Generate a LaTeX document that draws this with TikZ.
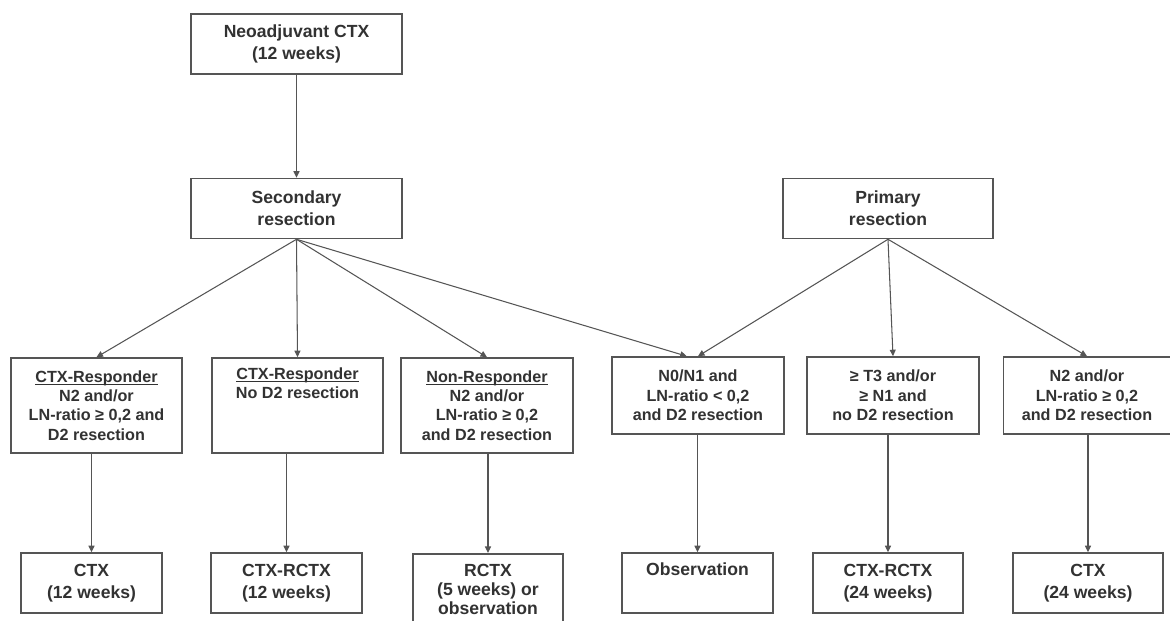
\documentclass[tikz,border=0pt]{standalone}
\usepackage{fontspec}
\setmainfont{Liberation Sans}
\usetikzlibrary{arrows.meta}
\definecolor{boxgray}{RGB}{85,85,85}
\definecolor{textgray}{RGB}{50,50,50}
\newcommand{\ulword}[1]{\setbox0\hbox{#1}\rlap{\rule[-0.3ex]{\wd0}{0.55pt}}\box0}

\begin{document}
\begin{tikzpicture}[>={Triangle[length=1.3mm,width=1.2mm]},
        box/.style={draw=boxgray, line width=0.9pt, fill=white, inner sep=0pt, align=center,
                    text=textgray, font=\fontsize{10}{12.5}\selectfont\bfseries, minimum height=1.2cm},
        crit/.style={box, font=\fontsize{9.2}{11}\selectfont\bfseries},
        link/.style={->, draw=boxgray, line width=0.6pt}]

    \useasboundingbox (0,0) rectangle (23.4,-12.42);

    % --- top row ---
    \node[box, minimum width=4.22cm] (neo)  at (5.93,-0.88) {Neoadjuvant CTX\\(12 weeks)};
    \node[box, minimum width=4.22cm] (sec)  at (5.93,-4.17) {Secondary\\resection};
    \node[box, minimum width=4.20cm] (prim) at (17.76,-4.17) {Primary\\resection};

    % --- criteria after secondary resection ---
    \node[crit, minimum width=3.42cm, minimum height=1.9cm] (crA) at (1.93,-8.11)
        {\ulword{CTX-Responder}\\N2 and/or\\LN-ratio ≥ 0,2 and\\D2 resection};
    \node[crit, minimum width=3.42cm, minimum height=1.9cm] (crB) at (5.95,-8.11)
        {\ulword{CTX-Responder}\\No D2 resection\\\strut\\\strut};
    \node[crit, minimum width=3.44cm, minimum height=1.9cm] (crC) at (9.74,-8.11)
        {\ulword{Non-Responder}\\N2 and/or\\LN-ratio ≥ 0,2\\and D2 resection};

    % --- criteria after primary resection ---
    \node[crit, minimum width=3.44cm, minimum height=1.54cm] (crD) at (13.96,-7.91)
        {N0/N1 and\\LN-ratio < 0,2\\and D2 resection};
    \node[crit, minimum width=3.44cm, minimum height=1.54cm] (crE) at (17.86,-7.91)
        {≥ T3 and/or\\≥ N1 and\\no D2 resection};
    \node[crit, minimum width=3.34cm, minimum height=1.54cm] (crF) at (21.74,-7.91)
        {N2 and/or\\LN-ratio ≥ 0,2\\and D2 resection};

    % --- therapy ---
    \node[box, minimum width=2.82cm] (thA) at (1.83,-11.66)  {CTX\\(12 weeks)};
    \node[box, minimum width=3.02cm] (thB) at (5.73,-11.66)  {CTX-RCTX\\(12 weeks)};
    \node[box, minimum width=3.00cm, minimum height=1.9cm, anchor=north,
          font=\fontsize{10}{10.8}\selectfont\bfseries] (thC) at (9.76,-11.06)
        {RCTX\\(5 weeks) or\\observation\\\strut};
    \node[box, minimum width=3.02cm] (thD) at (13.95,-11.66) {Observation\\\strut};
    \node[box, minimum width=3.00cm] (thE) at (17.76,-11.66) {CTX-RCTX\\(24 weeks)};
    \node[box, minimum width=3.00cm] (thF) at (21.76,-11.66) {CTX\\(24 weeks)};

    % --- arrows ---
    \draw[link] (neo) -- (sec);

    \draw[link] (sec.south) -- (crA.north);
    \draw[link] (sec.south) -- (crB.north);
    \draw[link] (sec.south) -- (crC.north);
    \draw[link] (sec.south) -- (crD.106);

    \draw[link] (prim.south) -- (crD.north);
    \draw[link] (prim.south) -- (crE.north);
    \draw[link] (prim.south) -- (crF.north);

    \draw[link] (thA.north |- crA.south) -- (thA.north);
    \draw[link] (thB.north |- crB.south) -- (thB.north);
    \draw[link] (thC.north |- crC.south) -- (thC.north);
    \draw[link] (thD.north |- crD.south) -- (thD.north);
    \draw[link] (thE.north |- crE.south) -- (thE.north);
    \draw[link] (thF.north |- crF.south) -- (thF.north);

\end{tikzpicture}
\end{document}
